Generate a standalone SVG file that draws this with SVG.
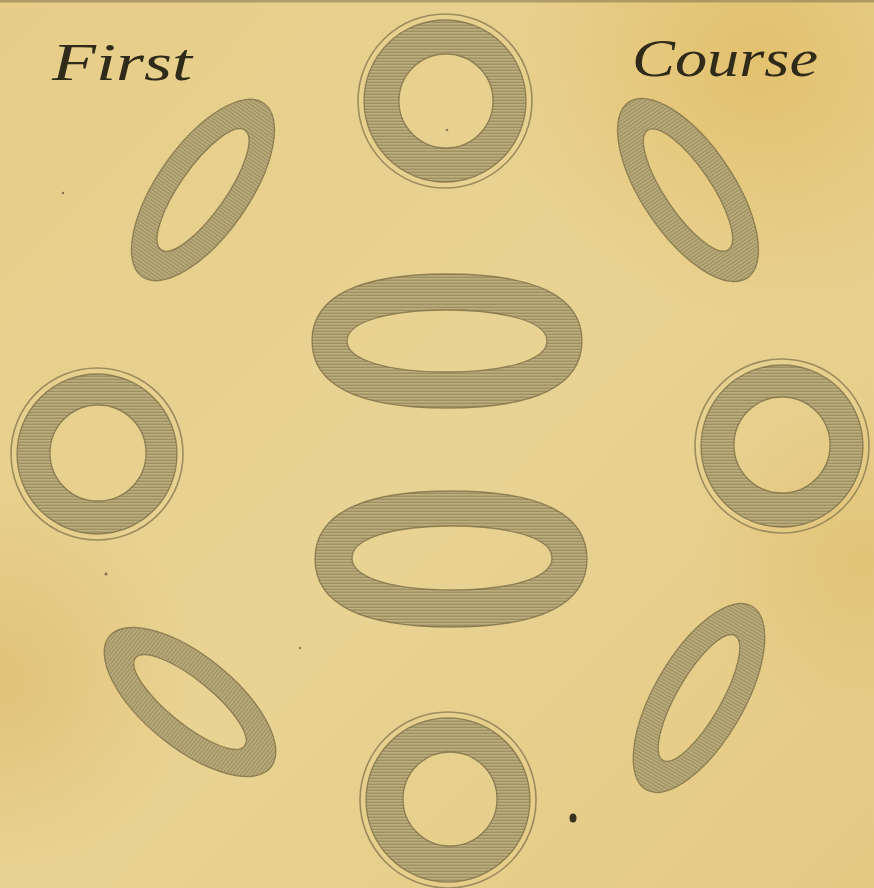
<svg xmlns="http://www.w3.org/2000/svg" width="874" height="888" viewBox="0 0 874 888">
  <defs>
    <linearGradient id="paper" x1="0" y1="0" x2="1" y2="1">
      <stop offset="0" stop-color="#e6cd88"/>
      <stop offset="0.5" stop-color="#e9d394"/>
      <stop offset="1" stop-color="#e4c983"/>
    </linearGradient>
    <radialGradient id="stainTR" cx="760" cy="60" r="260" gradientUnits="userSpaceOnUse">
      <stop offset="0" stop-color="#e0bb62" stop-opacity="0.75"/>
      <stop offset="1" stop-color="#e0bb62" stop-opacity="0"/>
    </radialGradient>
    <radialGradient id="stainL" cx="0" cy="680" r="200" gradientUnits="userSpaceOnUse">
      <stop offset="0" stop-color="#dcb868" stop-opacity="0.6"/>
      <stop offset="1" stop-color="#dcb868" stop-opacity="0"/>
    </radialGradient>
    <radialGradient id="stainR" cx="860" cy="560" r="160" gradientUnits="userSpaceOnUse">
      <stop offset="0" stop-color="#dfbd6a" stop-opacity="0.55"/>
      <stop offset="1" stop-color="#dfbd6a" stop-opacity="0"/>
    </radialGradient>
    <pattern id="hatch" width="6" height="3" patternUnits="userSpaceOnUse">
      <rect width="6" height="3" fill="#bdae7d"/>
      <line x1="0" y1="1.2" x2="6" y2="1.2" stroke="#918356" stroke-width="1"/>
    </pattern>
    <pattern id="hatchV" width="3" height="6" patternUnits="userSpaceOnUse">
      <rect width="3" height="6" fill="#bdae7d"/>
      <line x1="1.2" y1="0" x2="1.2" y2="6" stroke="#918356" stroke-width="1"/>
    </pattern>
  </defs>
  <style>
    .ring { fill: url(#hatch); fill-rule: evenodd; stroke: #7a6c44; stroke-width: 1.3; stroke-opacity: 0.75; }
    .ringv { fill: url(#hatchV); fill-rule: evenodd; stroke: #7a6c44; stroke-width: 1.3; stroke-opacity: 0.75; }
    .rim { fill: none; stroke: #8a7b50; stroke-width: 1.6; stroke-opacity: 0.8; }
    .script { font-family: "Liberation Serif", "DejaVu Serif", serif; font-style: italic; font-size: 52px; fill: #2f2a1a; }
    .speck { fill: #3a3322; }
  </style>

  <rect width="874" height="888" fill="url(#paper)"/>
  <rect width="874" height="888" fill="url(#stainTR)"/>
  <rect width="874" height="888" fill="url(#stainL)"/>
  <rect width="874" height="888" fill="url(#stainR)"/>
  <rect x="0" y="0" width="874" height="2.5" fill="#8a7a50" opacity="0.6"/>

  <text class="script" x="52" y="80" textLength="140" lengthAdjust="spacingAndGlyphs">First</text>
  <text class="script" x="632" y="76" textLength="186" lengthAdjust="spacingAndGlyphs">Course</text>

  <g id="dish-top">
    <circle class="rim" cx="445" cy="101" r="87"/>
    <path class="ring" d="M364,101 A81,81 0 1 0 526,101 A81,81 0 1 0 364,101 Z M399,101 A47,47 0 1 0 493,101 A47,47 0 1 0 399,101 Z"/>
  </g>
  <g id="dish-left">
    <circle class="rim" cx="97" cy="454" r="86"/>
    <path class="ring" d="M17,454 A80,80 0 1 0 177,454 A80,80 0 1 0 17,454 Z M50,453 A48,48 0 1 0 146,453 A48,48 0 1 0 50,453 Z"/>
  </g>
  <g id="dish-right">
    <circle class="rim" cx="782" cy="446" r="87"/>
    <path class="ring" d="M701,446 A81,81 0 1 0 863,446 A81,81 0 1 0 701,446 Z M734,445 A48,48 0 1 0 830,445 A48,48 0 1 0 734,445 Z"/>
  </g>
  <g id="dish-bottom">
    <circle class="rim" cx="448" cy="800" r="88"/>
    <path class="ring" d="M366,800 A82,82 0 1 0 530,800 A82,82 0 1 0 366,800 Z M403,799 A47,47 0 1 0 497,799 A47,47 0 1 0 403,799 Z"/>
  </g>

  <g id="dish-center-top">
    <path class="ring" d="M312,341 C312,296.8 357.9,274 447,274 C536.1,274 582,296.8 582,341 C582,385.2 536.1,408 447,408 C357.9,408 312,385.2 312,341 Z M347,341 C347,321 392,310 447,310 C502,310 547,321 547,341 C547,361 502,372 447,372 C392,372 347,361 347,341 Z"/>
  </g>
  <g id="dish-center-bottom">
    <path class="ring" d="M315,559 C315,514.1 361.2,491 451,491 C540.8,491 587,514.1 587,559 C587,603.9 540.8,627 451,627 C361.2,627 315,603.9 315,559 Z M352,558 C352,537 397,526 452,526 C507,526 552,537 552,558 C552,579 507,590 452,590 C397,590 352,579 352,558 Z"/>
  </g>

  <g id="dish-top-left" transform="translate(203,190) rotate(-55)">
    <path class="ringv" d="M-106,0 A106,46 0 1 0 106,0 A106,46 0 1 0 -106,0 Z M-73,0 A73,23 0 1 0 73,0 A73,23 0 1 0 -73,0 Z"/>
  </g>
  <g id="dish-top-right" transform="translate(688,190) rotate(56)">
    <path class="ringv" d="M-106,0 A106,46 0 1 0 106,0 A106,46 0 1 0 -106,0 Z M-72,0 A72,23 0 1 0 72,0 A72,23 0 1 0 -72,0 Z"/>
  </g>
  <g id="dish-bottom-left" transform="translate(190,702) rotate(39)">
    <path class="ringv" d="M-104,0 A104,46 0 1 0 104,0 A104,46 0 1 0 -104,0 Z M-70,0 A70,22 0 1 0 70,0 A70,22 0 1 0 -70,0 Z"/>
  </g>
  <g id="dish-bottom-right" transform="translate(699,698) rotate(-60)">
    <path class="ringv" d="M-106,0 A106,45 0 1 0 106,0 A106,45 0 1 0 -106,0 Z M-72,0 A72,22 0 1 0 72,0 A72,22 0 1 0 -72,0 Z"/>
  </g>

  <g id="specks">
    <ellipse class="speck" cx="573" cy="818" rx="3.5" ry="4.5"/>
    <circle class="speck" cx="63" cy="193" r="1.2" opacity="0.6"/>
    <circle class="speck" cx="106" cy="574" r="1.5" opacity="0.6"/>
    <circle class="speck" cx="300" cy="648" r="1.2" opacity="0.5"/>
    <circle class="speck" cx="447" cy="130" r="1.3" opacity="0.5"/>
  </g>
</svg>
